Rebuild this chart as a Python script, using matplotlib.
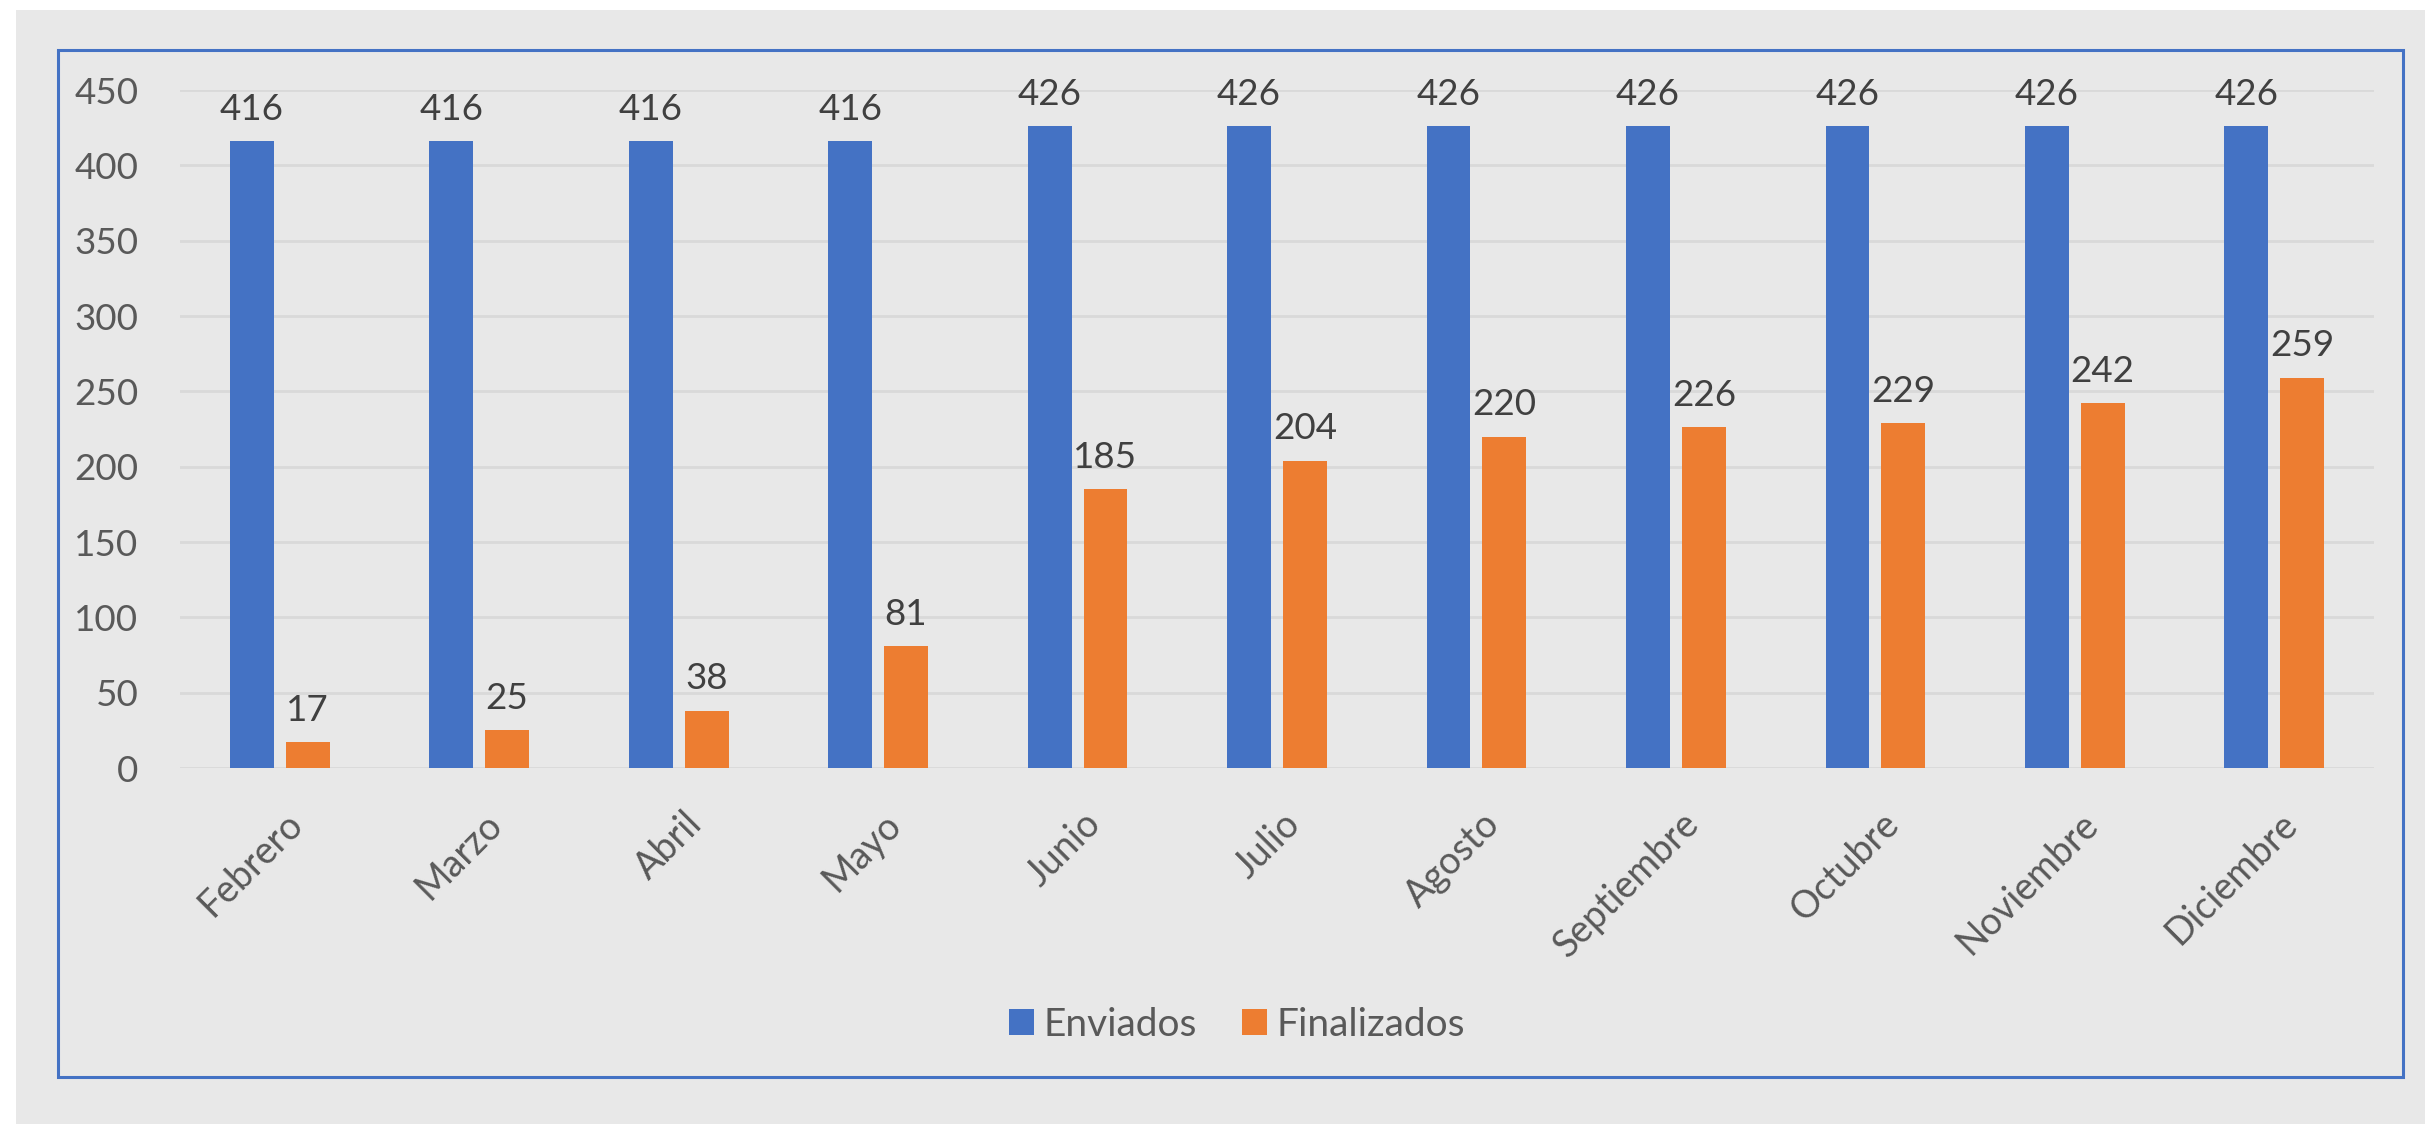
import matplotlib as mpl
import matplotlib.pyplot as plt
import numpy as np
from matplotlib.patches import Rectangle

plt.rcParams['font.family'] = ['Lato', 'DejaVu Sans']

meses = ['Febrero', 'Marzo', 'Abril', 'Mayo', 'Junio', 'Julio', 'Agosto',
         'Septiembre', 'Octubre', 'Noviembre', 'Diciembre']
enviados = [416, 416, 416, 416, 426, 426, 426, 426, 426, 426, 426]
finalizados = [17, 25, 38, 81, 185, 204, 220, 226, 229, 242, 259]

W, H = 2425, 1124
fig = plt.figure(figsize=(W/100, H/100), dpi=100)
fig.patch.set_facecolor('white')

# grey background + blue frame (px -> figure coords)
def px(x0, y0, x1, y1):
    return (x0/W, 1 - y1/H), (x1-x0)/W, (y1-y0)/H

xy, w, h = px(16, 10, W, H)
fig.patches.append(Rectangle(xy, w, h, transform=fig.transFigure,
                             facecolor='#E8E8E8', edgecolor='none', zorder=-5))
xy, w, h = px(58, 50, 2403, 1077)
fig.patches.append(Rectangle(xy, w, h, transform=fig.transFigure,
                             facecolor='none', edgecolor='#4472C4', lw=2.2, zorder=-4))

ax = fig.add_axes([180/W, 1 - 768/H, (2374-180)/W, (768-90)/H])
ax.set_facecolor('none')

x = np.arange(len(meses))
bw = 0.22
off = 0.14
b1 = ax.bar(x - off, enviados, bw, color='#4472C4', label='Enviados', zorder=3)
b2 = ax.bar(x + off, finalizados, bw, color='#ED7D31', label='Finalizados', zorder=3)

for b in (b1, b2):
    ax.bar_label(b, padding=11, fontsize=26.5, color='#404040')

ax.set_xlim(-0.5, len(meses) - 0.5)
ax.set_ylim(0, 450)
ax.set_yticks(np.arange(0, 451, 50))
ax.grid(axis='y', color='#D9D9D9', lw=2, zorder=0)
ax.set_axisbelow(True)
for s in ax.spines.values():
    s.set_visible(False)
ax.tick_params(length=0, labelsize=26.5, labelcolor='#595959')
ax.tick_params(axis='y', pad=30)
ax.tick_params(axis='x', pad=27)
ax.set_xticks(x)
ax.set_xticklabels(meses, rotation=45, ha='right', va='top', rotation_mode='anchor')
for t in ax.get_xticklabels():
    t.set_fontsize(27)
    t.set_transform(t.get_transform() + mpl.transforms.ScaledTranslation(0.05, 0, fig.dpi_scale_trans))

fig.legend(loc='center', bbox_to_anchor=(1237/W, 1 - 1025/H), ncol=2, frameon=False,
           fontsize=28, labelcolor='#595959', handlelength=0.65, handleheight=0.65,
           handletextpad=0.25, columnspacing=1.15)

fig.savefig('out.png', dpi=100, facecolor=fig.get_facecolor())
